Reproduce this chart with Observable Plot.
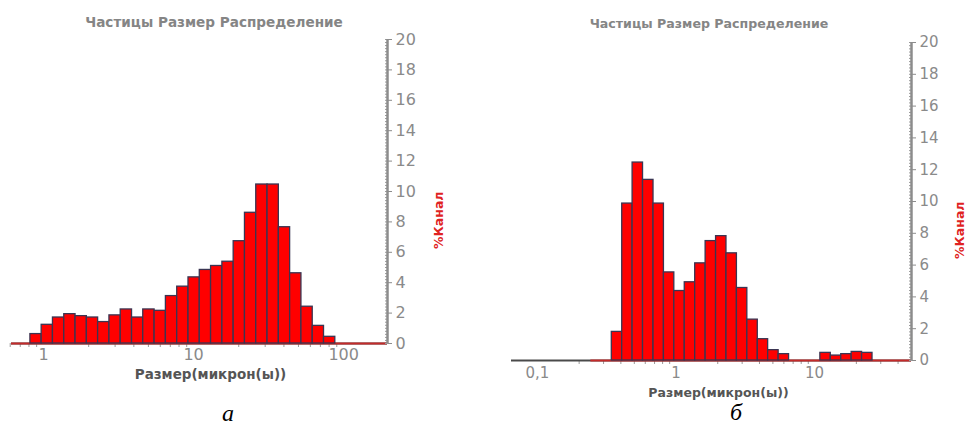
<!DOCTYPE html>
<html><head><meta charset="utf-8">
<script src="https://cdn.jsdelivr.net/npm/d3@7"></script>
<script src="https://cdn.jsdelivr.net/npm/@observablehq/plot@0.6"></script>
<style>
body{margin:0;background:#fff;}
#wrap{position:relative;width:966px;height:427px;overflow:hidden;font-family:"DejaVu Sans",sans-serif;background:#fff;}
.panel{position:absolute;top:0;}
.title{position:absolute;font-weight:bold;color:#858585;white-space:nowrap;transform:translate(-50%,-50%);}
.cap{position:absolute;font-family:"Liberation Serif","Times New Roman",serif;font-style:italic;font-size:24px;line-height:1;color:#000;transform:translate(-50%,0);}
</style></head><body>
<div id="wrap">
  <div id="pa" class="panel" style="left:0px"></div>
  <div id="pb" class="panel" style="left:483px"></div>
  <div class="title" style="left:214px;top:22px;font-size:13.6px">Частицы Размер Распределение</div>
  <div class="title" style="left:709px;top:23px;font-size:12.6px">Частицы Размер Распределение</div>
  <div class="cap" style="left:228px;top:401px">а</div>
  <div class="cap" style="left:736px;top:400px">б</div>
</div>
<script>
// Shared text
const chartTitle = "Частицы Размер Распределение";
const xTitle = "Размер(микрон(ы))";
const yTitle = "%Канал";

// Y axis ticks
const yMajor = [0, 2, 4, 6, 8, 10, 12, 14, 16, 18, 20];
const yMinor = d3.range(0, 20.001, 0.2);

// Panel а: channel edges (µm) and % per channel
const edgesA = [0.818, 0.972, 1.156, 1.375, 1.635, 1.945, 2.312, 2.75, 3.27, 3.89, 4.62, 5.5, 6.54, 7.78, 9.25, 11.0, 13.08, 15.56, 18.5, 22.0, 26.16, 31.11, 37.0, 44.0, 52.33, 62.23, 74.0, 88.0];
const pctA = [0.62, 1.23, 1.71, 1.93, 1.80, 1.71, 1.41, 1.85, 2.24, 1.71, 2.24, 2.15, 3.12, 3.74, 4.35, 4.84, 5.10, 5.38, 6.73, 8.60, 10.46, 10.46, 7.65, 4.62, 2.42, 1.16, 0.44];
const domainA = [0.612, 196];
const redFromA = 0.612;
const majorA = [1, 10, 100];
const majorLabelsA = ["1", "10", "100"];
const minorA = [0.6, 0.7, 0.8, 0.9, 2, 3, 4, 5, 6, 7, 8, 9, 20, 30, 40, 50, 60, 70, 80, 90];

// Panel б
const edgesB = [0.344, 0.409, 0.486, 0.578, 0.688, 0.818, 0.972, 1.156, 1.375, 1.635, 1.945, 2.312, 2.75, 3.27, 3.89, 4.62, 5.5, 6.54, 7.78, 9.25, 11.0, 13.08, 15.56, 18.5, 22.0, 26.16];
const pctB = [1.80, 9.87, 12.45, 11.36, 9.87, 5.54, 4.37, 4.92, 6.11, 7.51, 7.82, 6.74, 4.56, 2.57, 1.34, 0.65, 0.40, 0, 0, 0, 0.48, 0.31, 0.40, 0.54, 0.48];
const domainB = [0.065, 50];
const redFromB = 0.243;
const majorB = [0.1, 1, 10];
const majorLabelsB = ["0,1", "1", "10"];
const minorB = [0.2, 0.3, 0.4, 0.5, 0.6, 0.7, 0.8, 0.9, 2, 3, 4, 5, 6, 7, 8, 9, 20, 30, 40];

function panel(o) {
  const bars = o.pct.map((v, i) => ({x1: o.edges[i], x2: o.edges[i + 1], v})).filter(d => d.v > 0);
  return Plot.plot({
    width: o.width, height: o.height,
    marginLeft: o.ml, marginRight: o.mr, marginTop: o.mt, marginBottom: o.mb,
    style: {background: "transparent", fontFamily: "DejaVu Sans, sans-serif", overflow: "visible"},
    x: {type: "log", domain: o.domain},
    y: {domain: [0, 20]},
    marks: [
      Plot.axisX(o.minor, {anchor: "bottom", tickSize: 4, tickFormat: () => "", stroke: "#9a9a9a", label: null}),
      Plot.axisX(o.major, {anchor: "bottom", tickSize: 0, tickPadding: o.xPad, tickFormat: d => o.majorLabels[o.major.indexOf(d)], fontSize: o.tickFont, fill: "#8a8a8a", label: null}),
      Plot.ruleY([0], {stroke: "#4a4a4a", strokeWidth: 2}),
      Plot.ruleY([0], {x1: o.redFrom, x2: o.domain[1], stroke: "#c42a2a", strokeWidth: 2}),
      Plot.rect(bars, {x1: "x1", x2: "x2", y1: 0, y2: "v", fill: "#ff0000", stroke: "#3a3552", strokeWidth: 1.3}),
      Plot.axisY(yMinor, {anchor: "right", tickSize: -3, tickFormat: () => "", stroke: "#9a9a9a", label: null}),
      Plot.axisY(yMajor, {anchor: "right", tickSize: 4, tickPadding: 4, fontSize: o.tickFont, fill: "#8a8a8a", stroke: "#8c8c8c", label: null}),
      Plot.ruleX([o.domain[1]], {y1: 0, y2: 20, stroke: "#8c8c8c", strokeWidth: 2.5}),
      Plot.text([xTitle], {text: d => d, frameAnchor: "bottom", dx: o.xLabDx, dy: o.xLabDy, fontWeight: "bold", fontSize: o.xLabSize, fill: "#555555"}),
      Plot.text([yTitle], {text: d => d, frameAnchor: "right", dx: o.yLabDx, rotate: -90, fontWeight: "bold", fontSize: o.yLabSize, fill: "#e02222"})
    ]
  });
}

document.getElementById("pa").appendChild(panel({
  edges: edgesA, pct: pctA, domain: domainA, redFrom: redFromA, major: majorA, majorLabels: majorLabelsA, minor: minorA,
  width: 483, height: 400, ml: 11, mr: 96, mt: 39, mb: 57, tickFont: 16, xPad: 5,
  xLabDx: 11, xLabDy: 35, xLabSize: 13.5, yLabDx: 51, yLabSize: 12.5
}));
document.getElementById("pb").appendChild(panel({
  edges: edgesB, pct: pctB, domain: domainB, redFrom: redFromB, major: majorB, majorLabels: majorLabelsB, minor: minorB,
  width: 483, height: 400, ml: 28, mr: 55, mt: 42, mb: 40, tickFont: 15, xPad: 7,
  xLabDx: 7, xLabDy: 36, xLabSize: 12.5, yLabDx: 48, yLabSize: 12.5
}));
</script>
</body></html>
